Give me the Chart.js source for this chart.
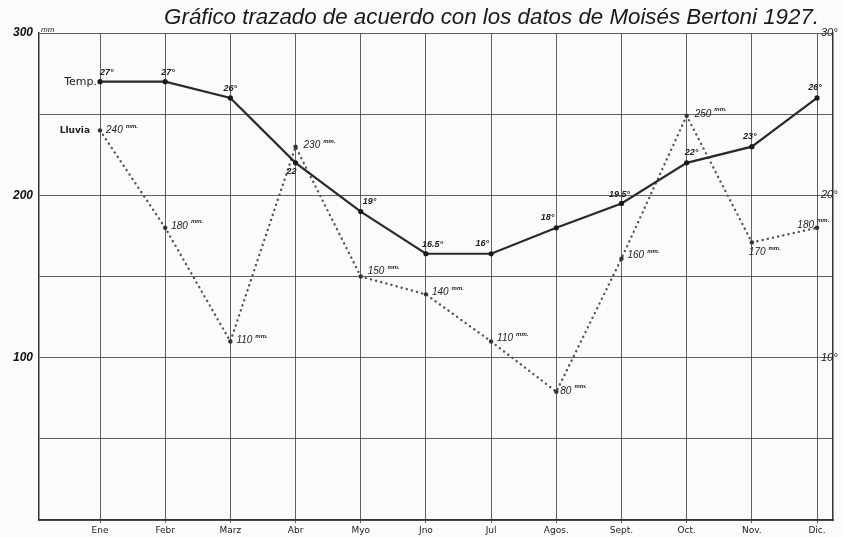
<!DOCTYPE html>
<html>
<head>
<meta charset="utf-8">
<script src="https://cdn.jsdelivr.net/npm/chart.js@4.4.1/dist/chart.umd.min.js"></script>
<style>
  html, body { margin: 0; padding: 0; background: #fbfbfa; }
  #wrap { width: 842px; height: 537px; position: relative; }
</style>
</head>
<body>
<div id="wrap"><canvas id="c"></canvas></div>
<script>
// ---- data ----
const months = ["Ene", "Febr", "Marz", "Abr", "Myo", "Jno", "Jul", "Agos.", "Sept.", "Oct.", "Nov.", "Dic."];
const tempValues = [27, 27, 26, 22, 19, 16.4, 16.4, 18, 19.5, 22, 23, 26];
const tempLabels = ["27°", "27°", "26°", "22", "19°", "16.5°", "16°", "18°", "19.5°", "22°", "23°", "26°"];
const rainValues = [240, 180, 110, 230, 150, 139, 110, 79, 161, 249, 171, 180];
const rainLabels = ["240", "180", "110", "230", "150", "140", "110", "80", "160", "250", "170", "180"];
const rainTicks = [100, 200, 300];
const tempTicks = [10, 20, 30];
const titleText = "Gráfico trazado de acuerdo con los datos de Moisés Bertoni 1927.";
const seriesNames = ["Temp.", "Lluvia"];

// ---- styling / placement (not data) ----
const ink = "#222";
const gridCol = "rgba(60,60,60,0.8)";
// label offsets relative to point [dx, dy, align]
const tempOff = [[0,-9,'left'],[-4,-9,'left'],[0,-9,'center'],[-4,9,'center'],[2,-10,'left'],[-4,-9,'left'],[-2,-10,'right'],[-2,-10,'right'],[-2,-9,'center'],[-2,-10,'left'],[-2,-10,'center'],[-2,-10,'center']];
const rainOff = [[6,0,'left'],[6,-2,'left'],[6,-1,'left'],[8,-1,'left'],[7,-5,'left'],[6,-2,'left'],[6,-3,'left'],[4,-1,'left'],[6,-3,'left'],[8,-2,'left'],[-3,10,'left'],[-3,-3,'right']];

const annot = {
  id: 'annot',
  afterDatasetsDraw(chart) {
    const ctx = chart.ctx;
    const ca = chart.chartArea;
    const tMeta = chart.getDatasetMeta(0);
    const rMeta = chart.getDatasetMeta(1);
    const y1 = chart.scales.y1;
    ctx.save();
    ctx.fillStyle = ink;
    ctx.textBaseline = 'middle';

    // title
    let fs = 20;
    const fam = '"Liberation Sans", Arial, sans-serif';
    ctx.font = `italic ${fs}px ${fam}`;
    const w = ctx.measureText(titleText).width;
    fs = fs * 655 / w;
    ctx.font = `italic ${fs.toFixed(2)}px ${fam}`;
    ctx.textAlign = 'right';
    ctx.fillStyle = '#1a1a1a';
    ctx.fillText(titleText, ca.right - 14, 18);
    ctx.fillStyle = ink;

    // right axis labels (temperature)
    ctx.textAlign = 'left';
    ctx.font = 'italic 11px "Liberation Sans", sans-serif';
    tempTicks.forEach(t => {
      ctx.fillText(t + '°', ca.right - 12, y1.getPixelForValue(t));
    });

    // "mm" unit next to 300
    ctx.font = 'italic 8px "Liberation Sans", sans-serif';
    ctx.fillText("mm", ca.left + 2, ca.top - 3);

    // series names
    const p0 = tMeta.data[0], r0 = rMeta.data[0];
    ctx.textAlign = 'right';
    ctx.font = '11px "DejaVu Sans", sans-serif';
    ctx.fillText(seriesNames[0], p0.x - 3, p0.y);
    ctx.font = 'bold 9px "DejaVu Sans", sans-serif';
    ctx.fillText(seriesNames[1], r0.x - 10, r0.y);

    // temp labels
    ctx.font = 'italic 600 9px "Liberation Sans", sans-serif';
    tMeta.data.forEach((pt, i) => {
      const o = tempOff[i];
      ctx.textAlign = o[2];
      ctx.fillText(tempLabels[i], pt.x + o[0], pt.y + o[1]);
    });

    // rain labels with superscript mm
    rMeta.data.forEach((pt, i) => {
      const o = rainOff[i];
      ctx.font = 'italic 10px "Liberation Sans", sans-serif';
      const tw = ctx.measureText(rainLabels[i]).width;
      let x0 = o[2] === 'right' ? pt.x + o[0] - tw : pt.x + o[0];
      const y0 = pt.y + o[1];
      ctx.textAlign = 'left';
      ctx.fillText(rainLabels[i], x0, y0);
      ctx.font = 'italic bold 6px "Liberation Sans", sans-serif';
      ctx.fillText("mm.", x0 + tw + 3, y0 - 4);
    });
    ctx.restore();
  }
};

const ctx = document.getElementById('c');
new Chart(ctx, {
  type: 'line',
  data: {
    datasets: [
      {
        label: seriesNames[0],
        data: tempValues.map((v, i) => ({ x: i, y: v })),
        yAxisID: 'y1',
        borderColor: '#2a2a2a',
        backgroundColor: '#1a1a1a',
        borderWidth: 2.2,
        pointRadius: 2.6,
        pointBorderWidth: 0,
        tension: 0
      },
      {
        label: seriesNames[1],
        data: rainValues.map((v, i) => ({ x: i, y: v })),
        yAxisID: 'y',
        borderColor: '#555',
        backgroundColor: '#333',
        borderWidth: 2.4,
        borderDash: [0.1, 5.2],
        borderCapStyle: 'round',
        pointRadius: 2.2,
        pointBorderWidth: 0,
        tension: 0
      }
    ]
  },
  options: {
    responsive: true,
    maintainAspectRatio: false,
    animation: false,
    layout: { padding: { top: 33, left: 0, right: 0, bottom: 0 } },
    plugins: { legend: { display: false }, tooltip: { enabled: false }, title: { display: false } },
    scales: {
      x: {
        type: 'linear',
        min: -0.936,
        max: 11.245,
        afterBuildTicks: (s) => { s.ticks = months.map((m, i) => ({ value: i })); },
        afterFit: (s) => { s.height = 17; },
        ticks: {
          autoSkip: false, maxRotation: 0, padding: 2,
          callback: (v) => months[v] ?? '',
          color: ink,
          font: { family: '"DejaVu Sans", sans-serif', size: 9 }
        },
        grid: { color: gridCol, lineWidth: 1, drawTicks: true, tickLength: 3 },
        border: { display: true, color: '#333', width: 1.5 }
      },
      y: {
        position: 'left',
        min: 0, max: 300,
        afterFit: (s) => { s.width = 39; },
        ticks: {
          stepSize: 50, padding: 6,
          callback: (v) => rainTicks.includes(v) ? String(v) : '',
          color: '#111',
          font: { family: '"Liberation Sans", sans-serif', size: 12, style: 'italic', weight: 'bold' }
        },
        grid: { color: gridCol, lineWidth: 1, drawTicks: false },
        border: { display: true, color: '#333', width: 1.5 }
      },
      y1: {
        position: 'right',
        min: 0, max: 30,
        afterFit: (s) => { s.width = 9; },
        ticks: { display: false, stepSize: 10 },
        grid: { display: false, drawTicks: false },
        border: { display: true, color: '#333', width: 1.5 }
      }
    }
  },
  plugins: [annot]
});
</script>
</body>
</html>
